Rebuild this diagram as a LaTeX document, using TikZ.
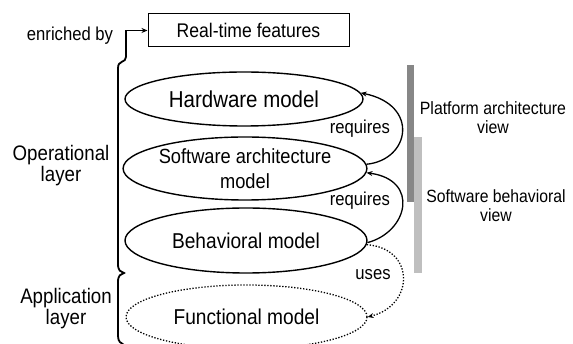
\documentclass[tikz,border=0pt]{standalone}
\usepackage{fontspec}
\setmainfont[FakeStretch=0.89]{Liberation Sans}
\usetikzlibrary{shapes.geometric,arrows.meta}
\begin{document}
\begin{tikzpicture}[x=1pt,y=-1pt,
  ell/.style={ellipse,draw,line width=1.4pt,inner sep=0pt,align=center},
  lab/.style={align=center,inner sep=0pt},
  arr/.style={line width=1.3pt,-{Stealth[length=6pt,width=5pt]}},
  dots/.style={line width=1.3pt,dash pattern=on 1.3pt off 1.7pt},
  brace/.style={line width=1.8pt},
  darkbar/.style={fill=black!47},
  lightbar/.style={fill=black!25}]
\useasboundingbox (0,0) rectangle (573,344);

% views bars
\fill[darkbar] (407,65) rectangle (414,202);
\fill[lightbar] (414,137) rectangle (422,273);

% ellipses
\node[ell,minimum width=238pt,minimum height=54pt,font=\fontsize{23}{25}\selectfont] (hw) at (244,99) {Hardware model};
\node[ell,minimum width=240pt,minimum height=63pt,font=\fontsize{20.5}{25}\selectfont] (sw) at (245,168.5) {Software architecture\\model};
\node[ell,minimum width=242pt,minimum height=65pt,font=\fontsize{21.5}{24}\selectfont] (bh) at (246,240.5) {Behavioral model};
\node[ell,dots,minimum width=241pt,minimum height=64pt,font=\fontsize{21.5}{24}\selectfont] (fm) at (246.5,317) {Functional model};

% real-time features box
\node[draw,line width=1pt,minimum width=201pt,minimum height=33pt,inner sep=0pt,font=\fontsize{19.75}{22}\selectfont] (rt) at (248.5,30.5) {Real-time features};

% labels
\node[lab,anchor=base,font=\fontsize{18.7}{20}\selectfont] (en) at (70,41) {enriched by};
\node[lab,font=\fontsize{21}{21}\selectfont] (op) at (61,166) {Operational\\layer};
\node[lab,font=\fontsize{21}{21}\selectfont] (ap) at (66,309) {Application\\layer};
\node[lab,anchor=base,font=\fontsize{18.7}{20}\selectfont] (rq1) at (360,134) {requires};
\node[lab,anchor=base,font=\fontsize{18.7}{20}\selectfont] (rq2) at (360,206) {requires};
\node[lab,anchor=base,font=\fontsize{18.7}{20}\selectfont] (us) at (373,280) {uses};
\node[lab,font=\fontsize{17.8}{19}\selectfont] (pav) at (493,118) {Platform architecture\\view};
\node[lab,font=\fontsize{17.7}{19}\selectfont] (sbv) at (496,206) {Software behavioral\\view};

% brace
\coordinate (bt) at (126,57);
\draw[brace] (bt) .. controls (126,63) and (118,60) .. (118,68) -- (118,264)
  .. controls (118,271) and (121,272) .. (124,273)
  .. controls (121,274) and (118,275) .. (118,282) -- (118,336)
  .. controls (118,342) and (121,343) .. (124,345);
\draw[line width=1.2pt,-{Stealth[length=6pt,width=5pt]}] (bt) |- (rt.west);

% relations
\draw[arr] (sw.2) .. controls (410,160) and (420,105) .. (hw.3);
\draw[arr] (bh.-1) .. controls (408,232) and (420,180) .. (sw.-2);
\draw[arr,dots] (bh.-2) .. controls (415,248) and (415,305) .. (fm.0);
\end{tikzpicture}
\end{document}
